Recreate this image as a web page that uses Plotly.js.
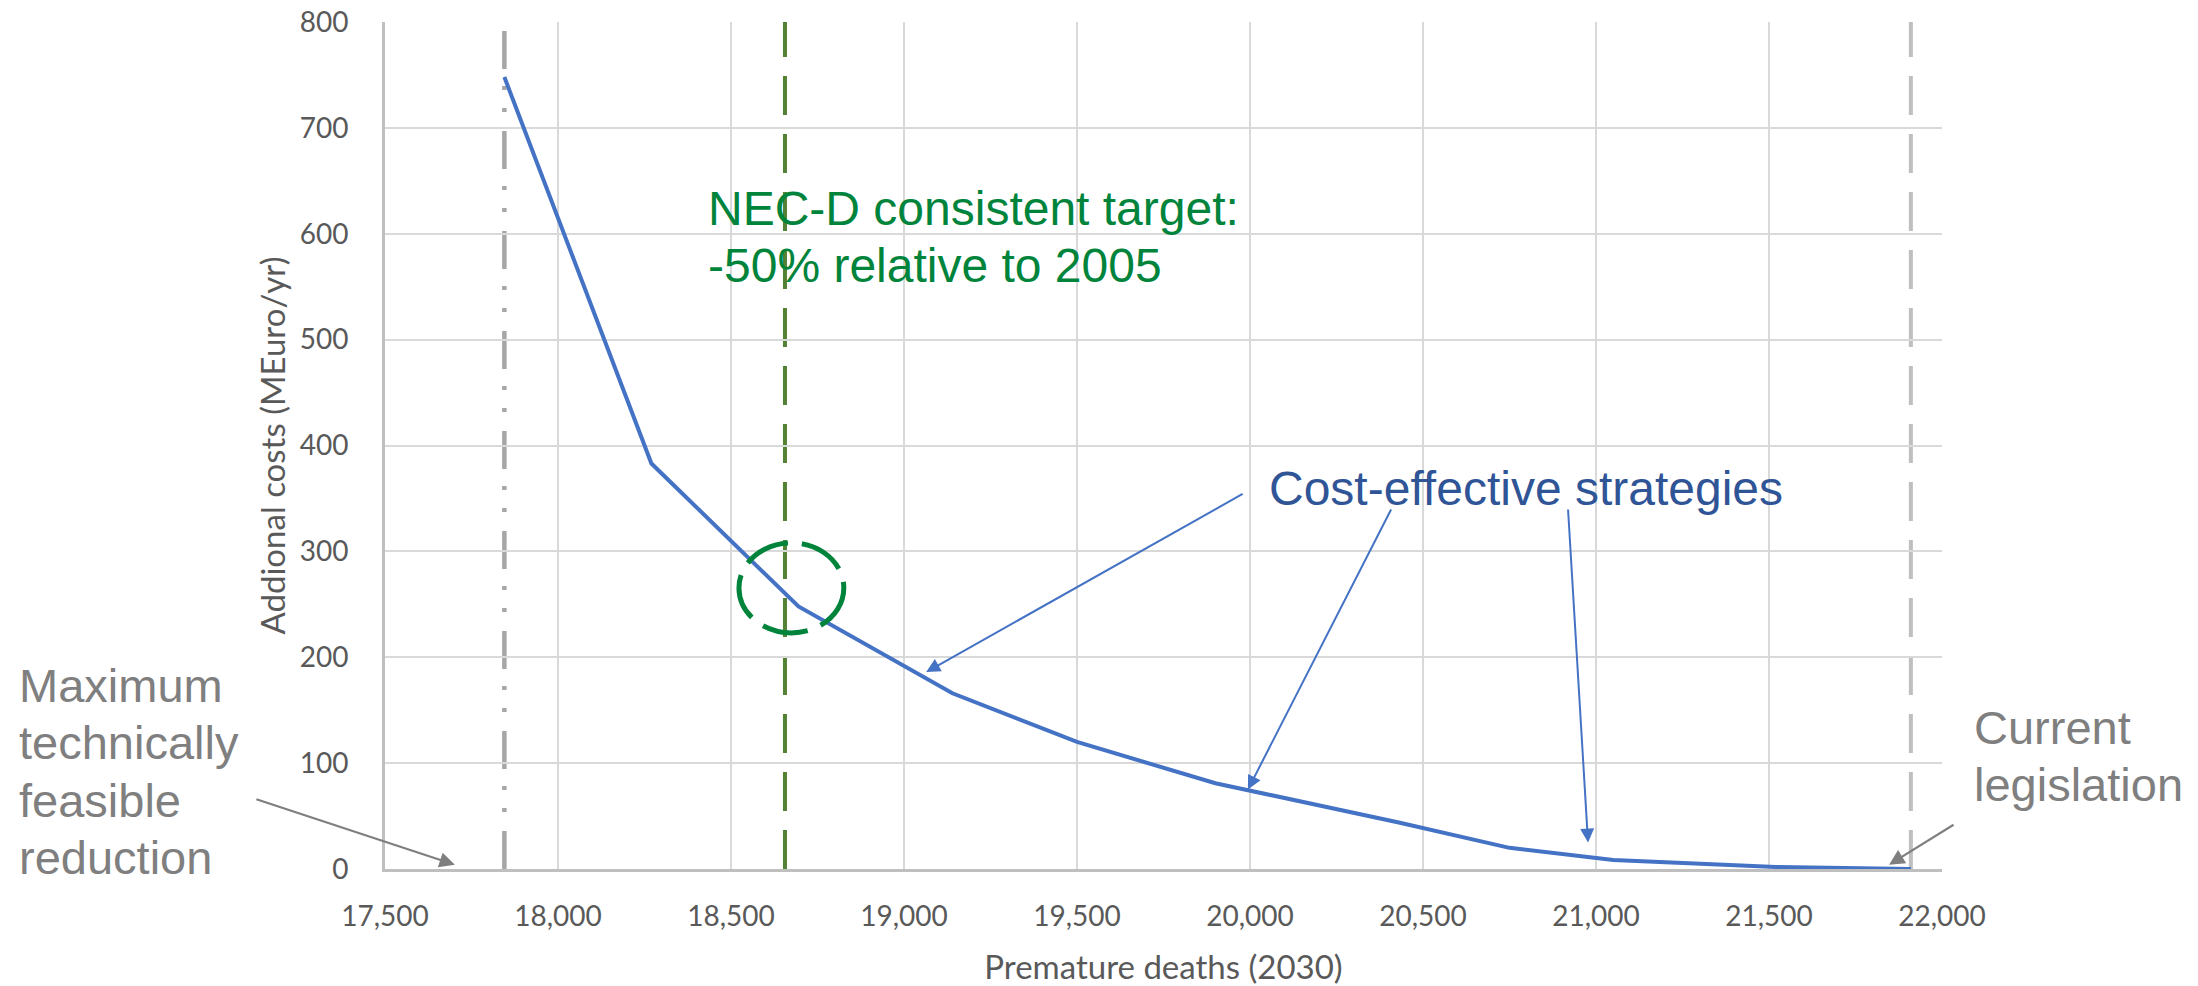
<!DOCTYPE html>
<html>
<head>
<meta charset="utf-8">
<script src="https://cdn.plot.ly/plotly-3.0.1.min.js"></script>
<style>
  html, body { margin: 0; padding: 0; background: #ffffff; }
  #chart { width: 2198px; height: 986px; }
</style>
</head>
<body>
<div id="chart"></div>
<script>
// Cost curve: premature deaths in 2030 vs additional control costs
const prematureDeaths = [17845, 18270, 18695, 19140, 19500, 19900, 20430, 20750, 21050, 21520, 21910];
const additionalCosts = [748, 383, 248, 166, 120, 81, 44, 20, 8.5, 2, 0];

// Reference scenarios (premature deaths)
const maxFeasibleDeaths = 17845;
const necTargetDeaths = 18656;
const currentLegislationDeaths = 21910;

// Axis ticks
const xTickVals = [17500, 18000, 18500, 19000, 19500, 20000, 20500, 21000, 21500, 22000];
const xTickText = ['17,500', '18,000', '18,500', '19,000', '19,500', '20,000', '20,500', '21,000', '21,500', '22,000'];
const yTickVals = [0, 100, 200, 300, 400, 500, 600, 700, 800];

// Frame geometry (pixels)
const W = 2198, H = 986;
const M = { l: 385, r: 256, t: 22, b: 117 };
const plotW = W - M.l - M.r;
const plotH = H - M.t - M.b;
const px = x => (x - M.l) / plotW;
const py = y => (H - M.b - y) / plotH;

const labelFamily = 'Liberation Sans, Arial, sans-serif';
const grey = '#7f7f7f';
const blue = '#4472c4';
const green = '#00843c';

function textLine(text, x, y, color, size) {
  return {
    text: text, xref: 'paper', yref: 'paper', x: px(x), y: py(y),
    xanchor: 'left', yanchor: 'middle', showarrow: false,
    font: { family: labelFamily, size: size || 47, color: color }
  };
}

function pointer(x, y, tailX, tailY, color) {
  return {
    x: x, y: y, xref: 'x', yref: 'y', axref: 'x', ayref: 'y',
    ax: tailX, ay: tailY, text: '', showarrow: true,
    arrowhead: 2, arrowsize: 1.4, arrowwidth: 2, arrowcolor: color
  };
}

const trace = {
  x: prematureDeaths,
  y: additionalCosts,
  type: 'scatter',
  mode: 'lines',
  line: { color: blue, width: 4 },
  hoverinfo: 'skip'
};

const annotations = [
  textLine('NEC-D consistent target:', 706, 209, green, 48),
  textLine('-50% relative to 2005', 706, 265, green, 48),
  textLine('Cost-effective strategies', 1267, 488, '#2f5597', 48),
  textLine('Maximum', 17, 685, grey),
  textLine('technically', 17, 742, grey),
  textLine('feasible', 17, 800, grey),
  textLine('reduction', 17, 857, grey),
  textLine('Current', 1972, 727, grey),
  textLine('legislation', 1972, 784, grey),
  pointer(19064, 186, 19983, 355, blue),
  pointer(19994, 75, 20410, 341, blue),
  pointer(20977, 25, 20919, 341, blue),
  {
    x: 17702, y: 4, xref: 'x', yref: 'y', ax: -200, ay: -66,
    text: '', showarrow: true, arrowhead: 2, arrowsize: 1.4, arrowwidth: 2.2, arrowcolor: grey
  },
  {
    x: 21847, y: 4, xref: 'x', yref: 'y', ax: 66, ay: -41,
    text: '', showarrow: true, arrowhead: 2, arrowsize: 1.4, arrowwidth: 2.2, arrowcolor: grey
  }
];

const shapes = [
  { type: 'line', xref: 'x', yref: 'y', x0: maxFeasibleDeaths, x1: maxFeasibleDeaths, y0: 0, y1: 795,
    line: { color: '#a6a6a6', width: 4.5, dash: '38px,19px,4px,18px,4px,17px' }, layer: 'below' },
  { type: 'line', xref: 'x', yref: 'y', x0: necTargetDeaths, x1: necTargetDeaths, y0: 0, y1: 800,
    line: { color: '#548235', width: 4, dash: '39px,19px' }, layer: 'below' },
  { type: 'line', xref: 'x', yref: 'y', x0: currentLegislationDeaths, x1: currentLegislationDeaths, y0: 0, y1: 800,
    line: { color: '#bfbfbf', width: 4, dash: '39px,19px' }, layer: 'below' },
  { type: 'circle', xref: 'x', yref: 'y', x0: 18523, x1: 18826, y0: 223, y1: 308,
    line: { color: green, width: 5, dash: '46px,14px' } }
];

const tickFont = { family: 'Lato, Carlito, sans-serif', size: 28, color: '#595959' };
const titleFont = { family: 'Lato, Carlito, sans-serif', size: 33, color: '#595959' };

const layout = {
  width: W, height: H,
  margin: M,
  paper_bgcolor: '#ffffff',
  plot_bgcolor: '#ffffff',
  showlegend: false,
  xaxis: {
    range: [17500, 22000],
    tickvals: xTickVals, ticktext: xTickText,
    showgrid: true, gridcolor: '#d9d9d9', gridwidth: 2,
    showline: true, linecolor: '#bfbfbf', linewidth: 3,
    zeroline: false, ticks: '', ticklabelstandoff: 20,
    tickfont: tickFont,
    title: { text: 'Premature deaths (2030)', font: titleFont, standoff: 26 },
    automargin: false
  },
  yaxis: {
    range: [0, 800],
    tickvals: yTickVals,
    showgrid: true, gridcolor: '#d9d9d9', gridwidth: 2,
    showline: true, linecolor: '#bfbfbf', linewidth: 3,
    zeroline: false, ticks: '', ticklabelstandoff: 28,
    tickfont: tickFont,
    title: { text: 'Addional costs (MEuro/yr)', font: titleFont, standoff: 5 },
    automargin: false
  },
  shapes: shapes,
  annotations: annotations
};

Plotly.newPlot('chart', [trace], layout, { displayModeBar: false, staticPlot: true });
</script>
</body>
</html>
